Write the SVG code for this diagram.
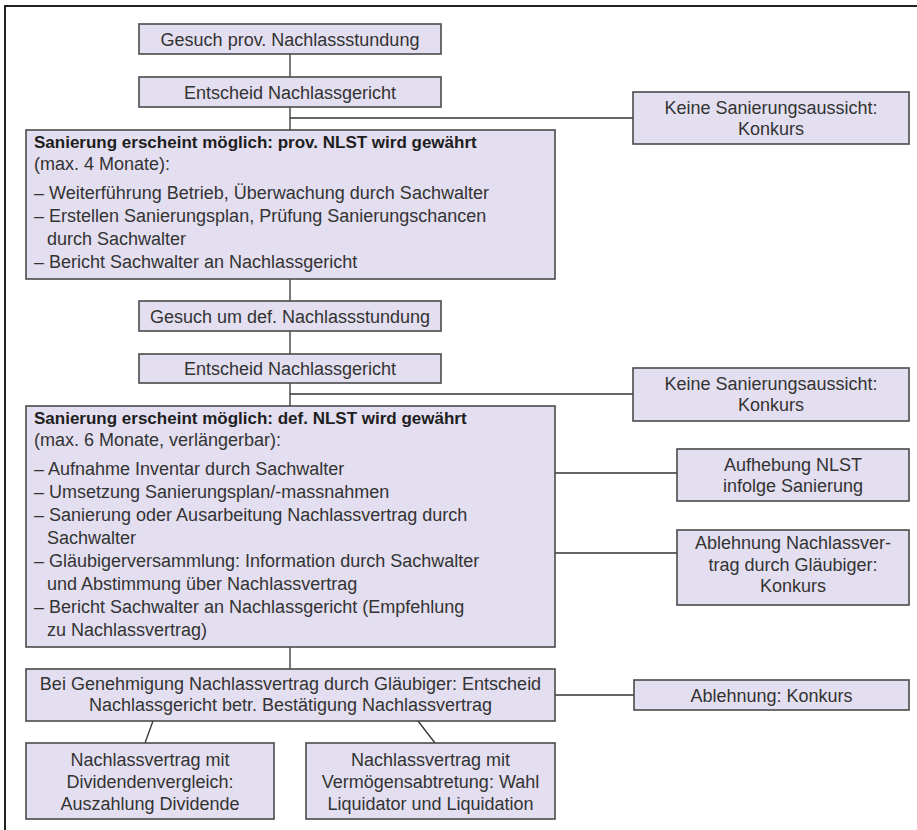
<svg xmlns="http://www.w3.org/2000/svg" width="917" height="830" viewBox="0 0 917 830">
<style>
.box{fill:#e3dff0;stroke:#4a4a4a;stroke-width:1.6}
.t{font-family:"Liberation Sans",Arial,sans-serif;font-size:18px;fill:#333}
.c{text-anchor:middle}
.b{font-weight:bold;font-size:17px;fill:#1e1e1e}
.ln{stroke:#333;stroke-width:1.3;fill:none}
.frame{stroke:#222;stroke-width:2;fill:none}
</style>
<rect width="917" height="830" fill="#fff"/>
<path class="frame" d="M5,830 V6 H917"/>
<g id="connectors">
<path class="ln" d="M290,54 V77"/>
<path class="ln" d="M290,107 V130"/>
<path class="ln" d="M290,118 H633"/>
<path class="ln" d="M290,279 V301"/>
<path class="ln" d="M290,331 V354"/>
<path class="ln" d="M290,383 V406"/>
<path class="ln" d="M290,394 H633"/>
<path class="ln" d="M555,473 H677"/>
<path class="ln" d="M555,553 H677"/>
<path class="ln" d="M290,647 V669"/>
<path class="ln" d="M555,695 H634"/>
<path class="ln" d="M153,721 L145,743"/>
<path class="ln" d="M418,721 L435,743"/>
</g>
<g id="n1"><rect class="box" x="139" y="24" width="302" height="30"/><text class="t c" x="290" y="45.5">Gesuch prov. Nachlassstundung</text></g>
<g id="n2"><rect class="box" x="139" y="77" width="302" height="30"/><text class="t c" x="290" y="98.5">Entscheid Nachlassgericht</text></g>
<g id="n3"><rect class="box" x="633" y="92" width="276" height="52"/><text class="t c" x="771" y="114">Keine Sanierungsaussicht:<tspan x="771" y="135">Konkurs</tspan></text></g>
<g id="n4"><rect class="box" x="26" y="130" width="529" height="149"/>
<text class="t b" x="34" y="148">Sanierung erscheint möglich: prov. NLST wird gewährt</text>
<text class="t" x="34" y="170">(max. 4 Monate):</text>
<text class="t" x="34" y="199">– Weiterführung Betrieb, Überwachung durch Sachwalter</text>
<text class="t" x="34" y="222">– Erstellen Sanierungsplan, Prüfung Sanierungschancen</text>
<text class="t" x="47" y="245">durch Sachwalter</text>
<text class="t" x="34" y="268">– Bericht Sachwalter an Nachlassgericht</text>
</g>
<g id="n5"><rect class="box" x="139" y="301" width="302" height="30"/><text class="t c" x="290" y="322.5">Gesuch um def. Nachlassstundung</text></g>
<g id="n6"><rect class="box" x="139" y="354" width="302" height="29"/><text class="t c" x="290" y="375">Entscheid Nachlassgericht</text></g>
<g id="n7"><rect class="box" x="633" y="368" width="276" height="53"/><text class="t c" x="771" y="390">Keine Sanierungsaussicht:<tspan x="771" y="411">Konkurs</tspan></text></g>
<g id="n8"><rect class="box" x="26" y="406" width="529" height="241"/>
<text class="t b" x="34" y="424">Sanierung erscheint möglich: def. NLST wird gewährt</text>
<text class="t" x="34" y="446">(max. 6 Monate, verlängerbar):</text>
<text class="t" x="34" y="475">– Aufnahme Inventar durch Sachwalter</text>
<text class="t" x="34" y="498">– Umsetzung Sanierungsplan/-massnahmen</text>
<text class="t" x="34" y="521">– Sanierung oder Ausarbeitung Nachlassvertrag durch</text>
<text class="t" x="47" y="544">Sachwalter</text>
<text class="t" x="34" y="567">– Gläubigerversammlung: Information durch Sachwalter</text>
<text class="t" x="47" y="590">und Abstimmung über Nachlassvertrag</text>
<text class="t" x="34" y="613">– Bericht Sachwalter an Nachlassgericht (Empfehlung</text>
<text class="t" x="47" y="636">zu Nachlassvertrag)</text>
</g>
<g id="n9"><rect class="box" x="677" y="449" width="232" height="52"/><text class="t c" x="793" y="471">Aufhebung NLST<tspan x="793" y="492">infolge Sanierung</tspan></text></g>
<g id="n10"><rect class="box" x="677" y="530" width="232" height="75"/><text class="t c" x="793" y="549">Ablehnung Nachlassver-<tspan x="793" y="570.5">trag durch Gläubiger:</tspan><tspan x="793" y="592">Konkurs</tspan></text></g>
<g id="n11"><rect class="box" x="26" y="669" width="529" height="52"/><text class="t c" x="290.5" y="690">Bei Genehmigung Nachlassvertrag durch Gläubiger: Entscheid<tspan x="290.5" y="711">Nachlassgericht betr. Bestätigung Nachlassvertrag</tspan></text></g>
<g id="n12"><rect class="box" x="634" y="680" width="275" height="30"/><text class="t c" x="771.5" y="701.5">Ablehnung: Konkurs</text></g>
<g id="n13"><rect class="box" x="26" y="743" width="248" height="76"/><text class="t c" x="150" y="766">Nachlassvertrag mit<tspan x="150" y="788">Dividendenvergleich:</tspan><tspan x="150" y="810">Auszahlung Dividende</tspan></text></g>
<g id="n14"><rect class="box" x="306" y="743" width="249" height="76"/><text class="t c" x="430.5" y="766">Nachlassvertrag mit<tspan x="430.5" y="788">Vermögensabtretung: Wahl</tspan><tspan x="430.5" y="810">Liquidator und Liquidation</tspan></text></g>
</svg>
